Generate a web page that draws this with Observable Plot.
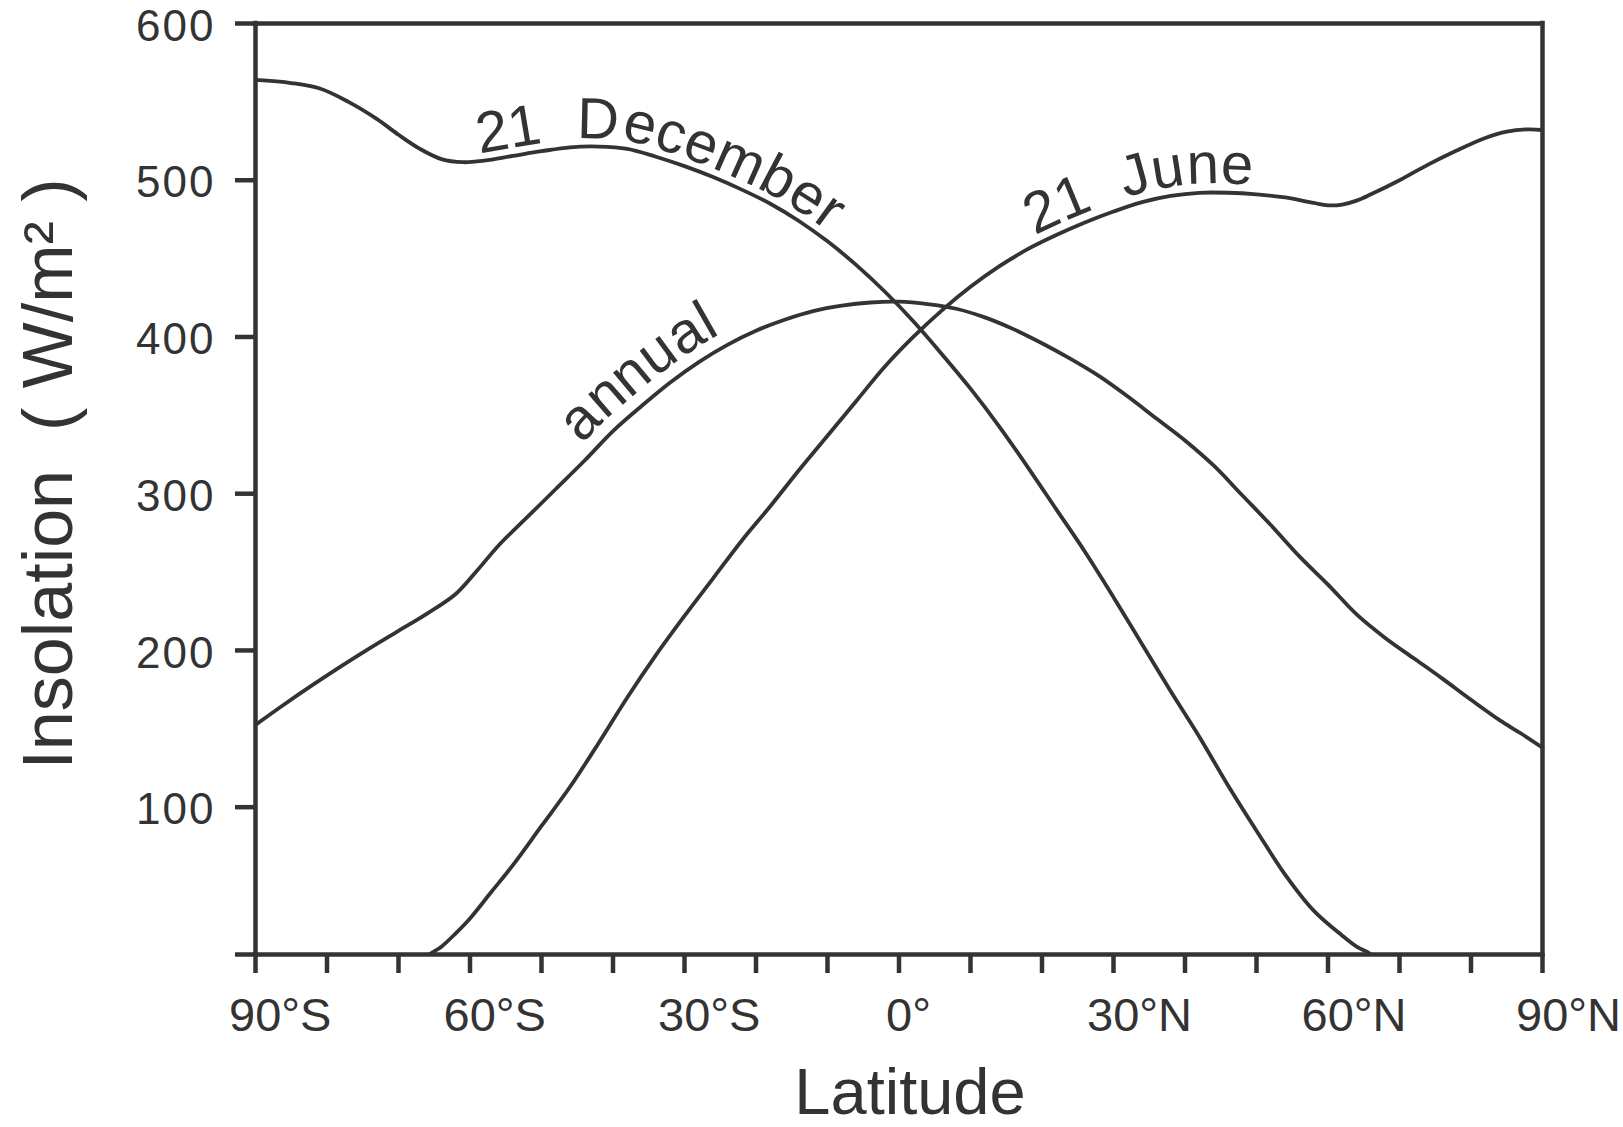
<!DOCTYPE html>
<html>
<head>
<meta charset="utf-8">
<script src="https://cdn.jsdelivr.net/npm/d3@7"></script>
<script src="https://cdn.jsdelivr.net/npm/@observablehq/plot@0.6"></script>
<style>
  html, body { margin: 0; padding: 0; background: #fff; overflow: hidden; }
  g[aria-description="y tick labels"] text { letter-spacing: 2px; }
</style>
</head>
<body>
<div id="chart"></div>
<script>
// Daily-mean top-of-atmosphere insolation (W/m²) by latitude (negative = south)
const decLat   = [-90, -85, -81, -77, -73, -70, -67, -64, -61, -58, -54, -50, -46, -42, -38, -34, -30, -26, -22, -18, -14, -10, -6, -2, 2, 6, 10, 14, 18, 22, 26, 30, 34, 38, 42, 46, 50, 54, 58, 62, 64, 66, 67];
const decValue = [564, 562, 558.5, 550, 539, 529, 520, 513.5, 511.5, 512.5, 515.5, 518.5, 521, 521.5, 520, 515, 509, 502, 494, 485, 474, 461, 446, 429, 410, 389, 367, 343, 317, 290, 263, 234, 204, 174, 145, 114, 85, 57, 34, 18, 11, 6, 0];

const juneLat   = [-67, -66, -64, -62, -60, -57, -54, -50, -46, -42, -38, -34, -30, -26, -22, -18, -14, -10, -6, -2, 2, 6, 10, 14, 18, 22, 26, 30, 34, 38, 42, 46, 50, 54, 58, 60, 62, 64, 66, 70, 74, 78, 82, 85, 88, 90];
const juneValue = [0, 5, 11, 19.5, 29, 46, 63, 88, 113, 141, 170, 197, 222, 246, 270, 292, 315, 337, 359, 381, 400, 417, 432, 445, 456, 465, 473, 480, 486, 490, 492, 492, 491, 489, 485.5, 484, 484.5, 487, 491, 500, 510, 519, 527, 531, 532.5, 532];

const annualLat   = [-90, -86, -82, -78, -74, -70, -66, -62, -59, -56, -52, -48, -44, -40, -36, -32, -28, -24, -20, -16, -12, -8, -4, 0, 4, 8, 12, 16, 20, 24, 28, 32, 36, 40, 44, 48, 52, 56, 60, 64, 68, 72, 76, 80, 84, 87, 90];
const annualValue = [152.5, 165.5, 178, 190, 201.5, 212.5, 223.5, 236, 251, 267, 285, 303, 321, 340, 356, 371, 384, 395, 404, 411, 416.5, 420, 422, 422.5, 421, 418, 412.5, 405, 396, 386, 375, 362, 348, 334, 318, 299, 280, 260, 242, 223, 208, 195, 182, 168.5, 155.5, 147, 138];

// Axes
const yFloor = 6;                       // value at the bottom edge of the frame
const yTicks = [yFloor, 100, 200, 300, 400, 500, 600];
const yLabelTicks = [100, 200, 300, 400, 500, 600];
const xTicks = d3.range(-90, 91, 10);
const xLabelTicks = [-90, -60, -30, 30, 60, 90];
const xZeroTick = [0];
const xTitle = "Latitude";
const yTitle = "Insolation\u00a0\u00a0(\u00a0W/m²\u00a0)";

// Curve labels, set along each curve
const curveLabels = [
  {series: 0, text: "21\u00a0\u00a0December", startLat: -58.5, dy: -8},
  {series: 1, text: "21\u00a0\u00a0June", startLat: 19.5, dy: -9},
  {series: 2, text: "annual", startLat: -43, dy: -13}
];

const ink = "#333";
const rows = (lat, val) => lat.map((l, i) => ({lat: l, value: val[i]}));
const latLabel = d => d === 0 ? "0°" : `${Math.abs(d)}°${d < 0 ? "S" : "N"}`;

const lineStyle = {x: "lat", y: "value", curve: "catmull-rom", stroke: ink, strokeWidth: 3.8};

const plot = Plot.plot({
  width: 1623,
  height: 1127,
  marginLeft: 255,
  marginRight: 81,
  marginTop: 23,
  marginBottom: 173,
  x: {domain: [-90, 90]},
  y: {domain: [yFloor, 600]},
  style: {fontFamily: "'Liberation Sans', Arial, sans-serif", color: ink, background: "#fff", overflow: "visible"},
  marks: [
    Plot.line(rows(decLat, decValue), {...lineStyle, clip: true}),
    Plot.line(rows(juneLat, juneValue), {...lineStyle, clip: true}),
    Plot.line(rows(annualLat, annualValue), lineStyle),
    Plot.ruleX([-90, 90], {stroke: ink, strokeWidth: 4.5, strokeLinecap: "square"}),
    Plot.ruleY([yFloor, 600], {stroke: ink, strokeWidth: 4.5, strokeLinecap: "square"}),
    Plot.axisY({ticks: yTicks, tickSize: 20, tickFormat: () => "", strokeWidth: 4.5, label: null}),
    Plot.text(yLabelTicks, {y: d => d, text: d => d, frameAnchor: "left", textAnchor: "end", lineAnchor: "middle", dx: -40, dy: 3, fontSize: 44, fill: ink, ariaDescription: "y tick labels"}),
    Plot.axisX({ticks: xTicks, tickSize: 19, tickFormat: () => "", strokeWidth: 4.5, label: null}),
    Plot.text(xLabelTicks, {x: d => d, text: latLabel, frameAnchor: "bottom", lineAnchor: "top", textAnchor: "start", dy: 43, dx: -26.5, fontSize: 47, fill: ink}),
    Plot.text(xZeroTick, {x: d => d, text: latLabel, frameAnchor: "bottom", lineAnchor: "top", textAnchor: "start", dy: 43, dx: -13, fontSize: 47, fill: ink}),
    Plot.text([yTitle], {text: d => d, frameAnchor: "left", textAnchor: "middle", lineAnchor: "middle", rotate: -90, dx: -206, dy: -15, fontSize: 70, fill: ink}),
    Plot.text([xTitle], {text: d => d, frameAnchor: "bottom", textAnchor: "middle", lineAnchor: "top", dy: 113, dx: 11, fontSize: 65, fill: ink})
  ]
});

document.getElementById("chart").appendChild(plot);

// Put each curve's name on its own path
const xScale = plot.scale("x");
const linePaths = plot.querySelectorAll('g[aria-label="line"] path');
const ns = "http://www.w3.org/2000/svg";
curveLabels.forEach((lab, i) => {
  const path = linePaths[lab.series];
  if (!path) return;
  const id = `curve-${i}`;
  path.setAttribute("id", id);
  const targetX = xScale.apply(lab.startLat);
  const total = path.getTotalLength();
  let lo = 0, hi = total;
  for (let k = 0; k < 40; k++) {
    const mid = (lo + hi) / 2;
    if (path.getPointAtLength(mid).x < targetX) lo = mid; else hi = mid;
  }
  const text = document.createElementNS(ns, "text");
  const parentTransform = path.parentNode.getAttribute("transform");
  if (parentTransform) text.setAttribute("transform", parentTransform);
  text.setAttribute("font-size", 58);
  text.setAttribute("fill", ink);
  text.setAttribute("text-anchor", "start");
  text.setAttribute("dy", lab.dy);
  const tp = document.createElementNS(ns, "textPath");
  tp.setAttribute("href", `#${id}`);
  tp.setAttribute("startOffset", lo);
  tp.textContent = lab.text;
  text.appendChild(tp);
  plot.appendChild(text);
});
</script>
</body>
</html>
